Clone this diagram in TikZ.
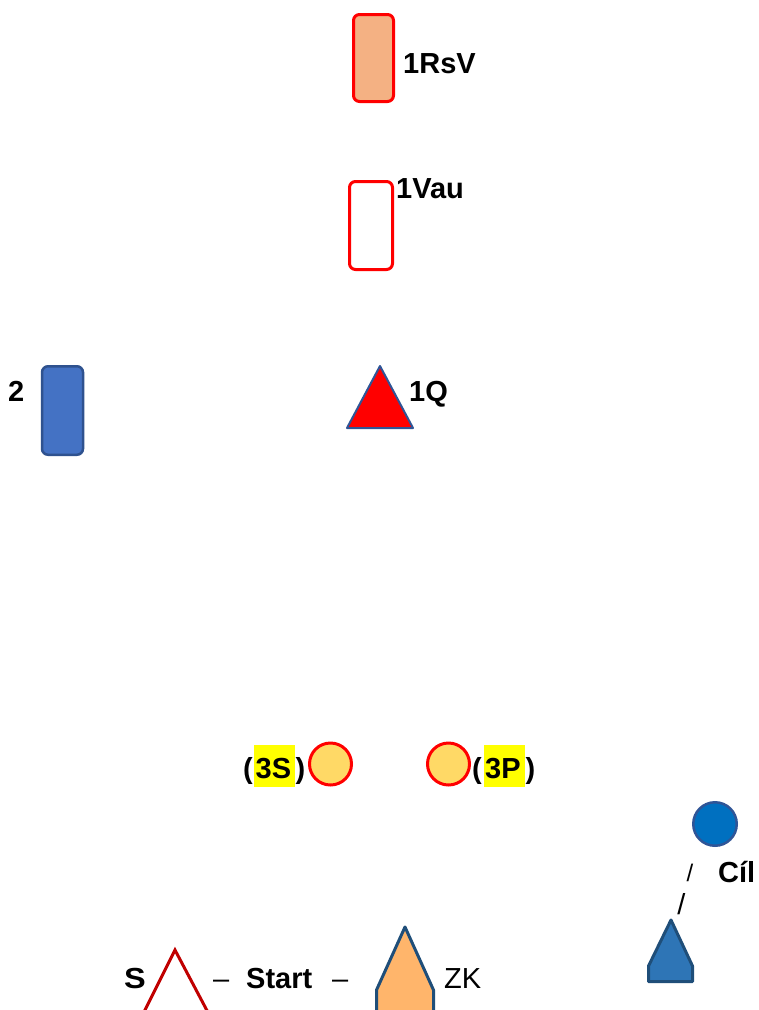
\documentclass[tikz,border=0pt]{standalone}
\usepackage{fontspec}
\setmainfont{Liberation Sans}
\definecolor{rsvfill}{HTML}{F4B183}
\definecolor{pured}{HTML}{FF0000}
\definecolor{bluefill}{HTML}{4472C4}
\definecolor{blueline}{HTML}{2F528F}
\definecolor{triline}{HTML}{2F5597}
\definecolor{circfill}{HTML}{FFD966}
\definecolor{goalfill}{HTML}{0070C0}
\definecolor{pentfill}{HTML}{2E75B6}
\definecolor{pentline}{HTML}{1F4E79}
\definecolor{darkred}{HTML}{C00000}
\definecolor{zkfill}{HTML}{FFB56B}
\definecolor{hlyellow}{HTML}{FFFF00}
\begin{document}
\begin{tikzpicture}[x=1pt,y=-1pt,
  lbl/.style={font=\fontsize{29}{31}\selectfont\bfseries, inner sep=0pt, anchor=base west},
  reg/.style={font=\fontsize{29}{31}\selectfont, inner sep=0pt, anchor=base west},
  rbox/.style={draw, rounded corners=6pt, inner sep=0pt},
  disc/.style={circle, draw, inner sep=0pt, minimum size=42pt}]
\useasboundingbox (0,0) rectangle (759,1010);
\clip (0,0) rectangle (759,1010);

% top orange box
\node[rbox, fill=rsvfill, draw=pured, line width=3pt, minimum width=40pt, minimum height=87pt] (rsv) at (373.5,58) {};
\node[lbl] (rsvlbl) at (403,73) {1RsV};

% empty red box
\node[rbox, fill=white, draw=pured, line width=3pt, minimum width=43pt, minimum height=88pt] (vau) at (371,225.5) {};
\node[lbl] (vaulbl) at (396,198) {1Vau};

% blue box
\node[rbox, fill=bluefill, draw=blueline, line width=2.5pt, minimum width=41pt, minimum height=88.5pt] (two) at (62.5,410.5) {};
\node[lbl] (twolbl) at (8,401) {2};

% red triangle
\draw[fill=pured, draw=triline, line width=2pt, line join=round] (380,366) -- (413,428) -- (347,428) -- cycle;
\node[lbl] (qlbl) at (409,401) {1Q};

% circles 3S / 3P
\fill[hlyellow] (254,745) rectangle (295,787);
\fill[hlyellow] (484,745) rectangle (525,787);
\node[disc, fill=circfill, draw=pured, line width=3pt] (c3s) at (330.5,764) {};
\node[disc, fill=circfill, draw=pured, line width=3pt] (c3p) at (448.5,764) {};
\node[lbl] (l3sa) at (243,778) {(};
\node[lbl] (l3sb) at (255.5,778) {3S};
\node[lbl] (l3sc) at (295.5,778) {)};
\node[lbl] (l3pa) at (472,778) {(};
\node[lbl] (l3pb) at (485,778) {3P};
\node[lbl] (l3pc) at (525.5,778) {)};

% goal
\node[disc, fill=goalfill, draw=triline, line width=2.5pt, minimum size=43.5pt] (goal) at (715,824) {};
\node[lbl] (goallbl) at (718,882) {Cíl};
\node[font=\fontsize{24}{26}\selectfont, inner sep=0pt, anchor=base] (sl1) at (690,881) {/};
\node[font=\fontsize{29}{31}\selectfont, inner sep=0pt, anchor=base] (sl2) at (681.5,914) {/};

% blue pentagon
\draw[fill=pentfill, draw=pentline, line width=3pt, line join=round] (671,920) -- (692.5,966) -- (692.5,981.5) -- (648.5,981.5) -- (648.5,966) -- cycle;

% bottom row
\node[lbl, xscale=1.12] (slbl) at (124,988) {S};
\draw[darkred, line width=3pt] (140,1020) -- (175,950) -- (212,1020);
\node[reg] (d1) at (213,988) {–};
\node[lbl] (start) at (246,988) {Start};
\node[reg] (d2) at (332,988) {–};
\draw[fill=zkfill, draw=pentline, line width=3pt, line join=round] (405,927) -- (433.5,990) -- (433.5,1030) -- (376.5,1030) -- (376.5,990) -- cycle;
\node[reg] (zk) at (444,988) {ZK};
\end{tikzpicture}
\end{document}
